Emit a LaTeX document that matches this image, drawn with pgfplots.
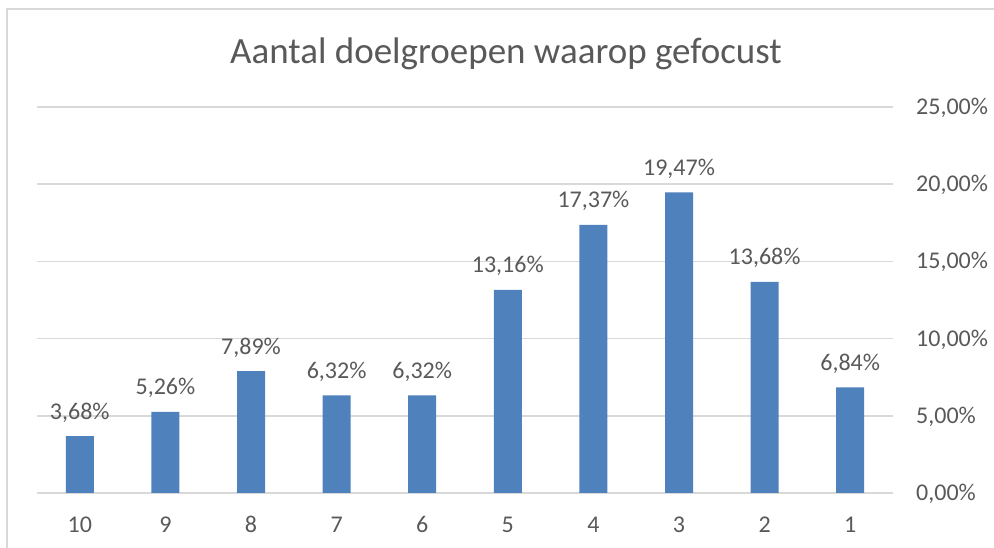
\documentclass[border=0pt]{standalone}
\usepackage{pgfplots}
\pgfplotsset{compat=1.18}
\usepackage{fontspec}
\setmainfont{Carlito}
\definecolor{barblue}{HTML}{4F81BD}
\definecolor{txtgray}{HTML}{595959}
\definecolor{gridgray}{HTML}{D9D9D9}
\newcommand{\lblfont}{\fontsize{24}{28}\selectfont}

\begin{document}
\begin{tikzpicture}
% canvas in px-like units (1px = 1pt)
\path[use as bounding box] (0pt,0pt) rectangle (994pt,548pt);
\draw[gridgray, line width=1.5pt] (7pt,0pt) -- (7pt,539pt) -- (994pt,539pt);
\node[anchor=base, text=txtgray, inner sep=0pt, font=\fontsize{37}{44}\selectfont]
  at (506pt,484pt) {Aantal doelgroepen waarop gefocust};
\begin{axis}[
  at={(37pt,55pt)}, anchor=south west, scale only axis,
  width=856pt, height=386pt,
  ybar, bar width=28pt,
  xmin=-0.5, xmax=9.5, ymin=0, ymax=25,
  xtick={0,...,9}, xticklabels={10,9,8,7,6,5,4,3,2,1},
  ytick={0,5,...,25},
  axis line style={draw=none}, major tick length=0pt,
  ymajorgrids, major grid style={gridgray, line width=1.5pt},
  yticklabel pos=right,
  /pgf/number format/assume math mode=true,
  yticklabel={\pgfmathprintnumber[fixed,fixed zerofill,precision=2,use comma]{\tick}\%},
  yticklabel style={anchor=base west, inner sep=0pt, xshift=23pt, yshift=-7.5pt,
    font=\lblfont, text=txtgray},
  xticklabel style={anchor=base, inner sep=0pt, yshift=-40pt,
    font=\lblfont, text=txtgray},
  nodes near coords={\pgfmathprintnumber[fixed,fixed zerofill,precision=2,use comma]{\pgfplotspointmeta}\%},
  nodes near coords style={anchor=base, inner sep=0pt, yshift=17pt,
    font=\lblfont, text=txtgray},
]
\addplot[fill=barblue, draw=none] coordinates {
  (0,3.68) (1,5.26) (2,7.89) (3,6.32) (4,6.32)
  (5,13.16) (6,17.37) (7,19.47) (8,13.68) (9,6.84)
};
\end{axis}
\end{tikzpicture}
\end{document}
